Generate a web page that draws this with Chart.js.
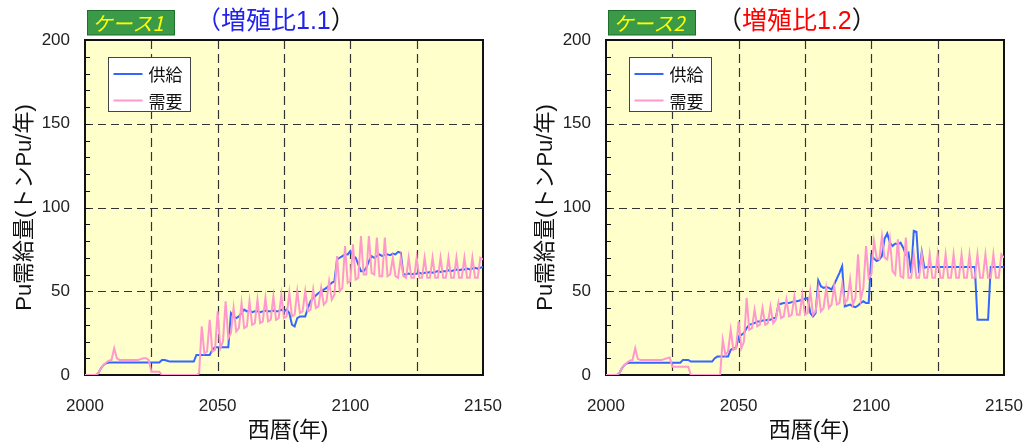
<!DOCTYPE html>
<html>
<head>
<meta charset="utf-8">
<script src="https://cdn.jsdelivr.net/npm/chart.js@4.4.0/dist/chart.umd.min.js"></script>
<style>
  html, body { margin: 0; padding: 0; background: #fff; overflow: hidden; width: 1026px; height: 443px; }
  .panel { position: absolute; top: 0; width: 513px; height: 443px; }
</style>
</head>
<body>
<div class="panel" style="left:0"><canvas id="case1" width="513" height="443"></canvas></div>
<div class="panel" style="left:521px"><canvas id="case2" width="513" height="443"></canvas></div>
<script>
// Years 2000..2150, one value per year
const years = Array.from({ length: 151 }, (_, i) => 2000 + i);
const xLabelled = [2000, 2050, 2100, 2150];
const yStep = 50;
const yMinorStep = 10;

// Case 1 (breeding ratio 1.1): Pu supply, t/yr
const supply1 = [
  0, 0, 0, 0, 0,
  1, 4, 6, 7, 7.5,
  7.5, 7.5, 7.5, 7.5, 7.5, 7.5, 7.5, 7.5, 7.5, 7.5,
  7.5, 7.5, 7.5, 7.5, 7.5, 7.5, 7.5, 7.5, 7.5,
  9, 9, 8.5,
  8, 8, 8, 8, 8, 8, 8, 8, 8, 8,
  12, 12, 12, 12, 12, 12,
  15, 16.5, 16.5, 16.5, 16.5, 16.5, 16.5,
  37, 35, 34, 35, 37, 39,
  38, 38.5, 37.5, 38, 38, 37.5, 38, 38.5, 38, 38, 38.5, 38, 38, 39, 38, 39,
  37, 30, 29, 34, 35, 35, 35,
  40, 44, 46, 47.5, 49, 50, 51, 52, 53.5, 55, 56,
  69, 70, 71, 72, 72,
  74, 71, 70, 66, 62, 62, 64, 68, 71, 70,
  71, 72, 71, 72, 72, 71.5, 72.5, 72, 73.5, 73,
  60,
  60, 60.5, 60, 60.5, 60.5, 61, 60.5, 61, 61, 61.5, 61, 61.5, 62, 61.5, 62,
  62, 62.5, 62, 62.5, 63, 62.5, 63, 63, 63.5, 63, 63.5, 64, 63.5, 64, 64.5
];

// Case 1: Pu demand, t/yr
const demand1 = [
  0, 0, 0, 0, 0,
  1, 4, 6, 7.5, 8.5, 9, 16, 10,
  9, 9, 9, 9, 9, 9, 9, 9,
  9.5, 10, 10, 9,
  2, 2, 2, 2,
  0, 0, 0, 0, 0, 0, 0, 0, 0, 0, 0, 0, 0, 0,
  1,
  29, 13, 14,  33, 14, 15,  38, 16, 20,  44, 22, 25,  40, 26, 28,
  43, 28, 29,  44, 30, 31,  45, 31, 32,  46, 32, 33,  47, 33, 34,
  48, 34, 35,  49, 35, 36,  50, 37, 38,  50, 38, 39,  51, 40, 41,
  52, 42, 44,  56, 45, 48,  71, 50, 52,  77, 55, 56,  78, 57, 58,
  83, 60, 60,  83, 61, 60,  82, 59, 59,  82, 59, 60,  70, 59, 58,
  70, 59, 58,  70, 58, 58,  70, 58, 58,  70, 58, 58,  70, 58, 58,
  70, 58, 58,  70, 58, 58,  70, 58, 58,  70, 58, 58,  70, 58, 58,
  70, 69
];

// Case 2 (breeding ratio 1.2): Pu supply, t/yr
const supply2 = [
  0, 0, 0, 0, 0,
  1, 4, 6, 7, 7.3,
  7.3, 7.3, 7.3, 7.3, 7.3, 7.3, 7.3, 7.3, 7.3, 7.3,
  7.3, 7.3, 7.3, 7.3, 7.3, 7.3, 7.3, 7.3, 7.3,
  9, 9, 9,
  8, 8, 8, 8, 8, 8, 8, 8, 8,
  10,
  11, 11, 11, 11, 11,
  15, 16, 16,
  23, 24, 25, 28, 30, 30.5, 31, 32, 32, 32.5, 32.5, 33, 33, 34, 34,
  42, 42.5, 43, 43, 43, 43.5, 44, 44, 44.5, 45, 45.5, 46,
  37, 35, 37, 56.5, 53, 52, 52.5, 52, 51, 54, 57.5, 61, 65,
  41, 41.5, 42, 41, 40.5, 41.5, 43, 44, 43, 43,
  71.5, 69.5, 68, 69, 71, 81.5, 84.5, 79, 77, 78.5,
  78, 79, 76, 72, 73, 61, 86, 85.5, 61, 73.5, 64,
  64.5, 64.5, 64.5, 64.5, 64.5, 64.5, 64.5, 64.5, 64.5, 64.5,
  64.5, 64.5, 64.5, 64.5, 64.5, 64.5, 64.5, 64.5, 64.5,
  33, 33, 33, 33, 33,
  64.5, 64.5, 64.5, 64.5, 64.5, 64.5
];

// Case 2: Pu demand, t/yr
const demand2 = [
  0, 0, 0, 0, 0,
  1, 4, 6, 7.5, 8.5, 9, 16, 9.5,
  9, 9, 9, 9, 9, 9, 9, 9, 9,
  9.5, 10, 10.5,
  5, 5, 5, 5, 5, 5, 5,
  0, 0, 0, 0, 0, 0, 0, 0, 0, 0, 0, 0,
  21, 12, 14,  27, 15, 16,  32, 16, 20,  46, 27, 28,  39, 29, 30,
  40, 30, 31,  41, 31, 33,  43, 34, 35,  45, 35, 36,  47, 36, 36,
  48, 36, 37,  50, 36, 38,  51, 38, 40,  52, 40, 42,  53, 42, 43,
  54, 43, 45,  57, 42, 46,  72, 45, 52,  77, 58, 60,  80, 70, 69,
  83, 70, 69,  81, 62, 60,  81, 59, 58,  82, 58, 58,  72, 58, 58,
  72, 58, 58,  72, 58, 58,  72, 58, 58,  72, 58, 58,  72, 58, 58,
  72, 58, 58,  72, 58, 58,  72, 58, 58,  72, 58, 58,  72, 58, 58,
  72, 70
];

const SUPPLY_COLOR = '#3366FF';
const DEMAND_COLOR = '#FF99CC';
const FONT = '"Liberation Sans", "Noto Sans CJK JP", sans-serif';
const JP = '"Noto Sans CJK JP", "Liberation Sans", sans-serif';

const decor = {
  id: 'decor',
  beforeDraw(chart) {
    const { ctx, chartArea: a } = chart;
    ctx.save();
    ctx.fillStyle = '#FFFFCC';
    ctx.fillRect(a.left, a.top, a.right - a.left, a.bottom - a.top);
    ctx.restore();
  },
  beforeDatasetsDraw(chart) {
    const { ctx, chartArea: a, scales: { x, y } } = chart;
    ctx.save();
    ctx.strokeStyle = '#333';
    ctx.lineWidth = 1.2;
    // vertical dashed grid at interior x ticks
    ctx.setLineDash([9, 5]);
    x.ticks.forEach(t => {
      if (t.value <= x.min || t.value >= x.max) return;
      const px = Math.round(x.getPixelForValue(t.value)) + 0.5;
      ctx.beginPath(); ctx.moveTo(px, a.top); ctx.lineTo(px, a.bottom); ctx.stroke();
    });
    // horizontal dashed grid at interior y ticks
    ctx.setLineDash([8, 5]);
    y.ticks.forEach(t => {
      if (t.value <= y.min || t.value >= y.max) return;
      const py = Math.round(y.getPixelForValue(t.value)) + 0.5;
      ctx.beginPath(); ctx.moveTo(a.left, py); ctx.lineTo(a.right, py); ctx.stroke();
    });
    // minor ticks on the value axis
    ctx.setLineDash([]);
    ctx.strokeStyle = '#111';
    ctx.lineWidth = 1;
    for (let v = y.min + yMinorStep; v < y.max; v += yMinorStep) {
      const py = Math.round(y.getPixelForValue(v)) + 0.5;
      ctx.beginPath(); ctx.moveTo(a.left, py); ctx.lineTo(a.left + 5, py); ctx.stroke();
    }
    // plot frame
    ctx.lineWidth = 2;
    ctx.strokeStyle = '#111';
    ctx.strokeRect(a.left, a.top, a.right - a.left, a.bottom - a.top);
    ctx.restore();
  },
  afterDraw(chart, args, o) {
    const { ctx, chartArea: a } = chart;
    ctx.save();
    // case badge
    const bx = a.left + 2.5, by = 10.5, bw = 87, bh = 24.5;
    ctx.fillStyle = '#3A9A48';
    ctx.fillRect(bx, by, bw, bh);
    ctx.strokeStyle = '#1F6E2C';
    ctx.lineWidth = 1;
    ctx.strokeRect(bx, by, bw, bh);
    ctx.fillStyle = '#FFFF00';
    ctx.font = 'italic 20px ' + JP;
    ctx.textBaseline = 'middle';
    ctx.textAlign = 'left';
    ctx.fillText(o.caseText, bx + 5, by + bh / 2 + 1);

    // breeding ratio heading
    ctx.font = '25px ' + FONT;
    let tx = a.left + 111;
    const ty = 22;
    ctx.fillStyle = o.openColor;
    ctx.fillText('（', tx, ty);
    tx += ctx.measureText('（').width;
    ctx.fillStyle = o.ratioColor;
    ctx.fillText(o.ratioText, tx, ty);
    tx += ctx.measureText(o.ratioText).width;
    ctx.fillStyle = '#111';
    ctx.fillText('）', tx, ty);

    // legend
    const lx = a.left + 23.5, ly = 57.5, lw = 82, lh = 54;
    ctx.fillStyle = '#fff';
    ctx.fillRect(lx, ly, lw, lh);
    ctx.strokeStyle = '#444';
    ctx.lineWidth = 1;
    ctx.strokeRect(lx, ly, lw, lh);
    chart.data.datasets.slice().sort((p, q) => p.legendIndex - q.legendIndex).forEach((ds, i) => {
      const yy = ly + 16.5 + i * 26.5;
      ctx.strokeStyle = ds.borderColor;
      ctx.lineWidth = 2;
      ctx.beginPath(); ctx.moveTo(lx + 5, yy); ctx.lineTo(lx + 34, yy); ctx.stroke();
      ctx.fillStyle = '#111';
      ctx.font = '17px ' + JP;
      ctx.fillText(ds.label, lx + 40, yy + 1);
    });

    // axis titles
    ctx.fillStyle = '#111';
    ctx.font = '22px ' + FONT;
    ctx.textAlign = 'center';
    ctx.fillText('西暦(年)', (a.left + a.right) / 2 + 4, 431);
    ctx.translate(25, (a.top + a.bottom) / 2);
    ctx.rotate(-Math.PI / 2);
    ctx.fillText('Pu需給量(トンPu/年)', 0, 0);
    ctx.restore();
  }
};

function makeChart(id, supply, demand, deco) {
  return new Chart(document.getElementById(id), {
    type: 'line',
    data: {
      datasets: [
        {
          label: '需要', legendIndex: 1, order: 0,
          data: demand.map((v, i) => ({ x: years[i], y: v })),
          borderColor: DEMAND_COLOR, borderWidth: 2, pointRadius: 0, tension: 0
        },
        {
          label: '供給', legendIndex: 0, order: 1,
          data: supply.map((v, i) => ({ x: years[i], y: v })),
          borderColor: SUPPLY_COLOR, borderWidth: 2, pointRadius: 0, tension: 0
        }
      ]
    },
    options: {
      responsive: false,
      animation: false,
      events: [],
      layout: { padding: { top: 40, right: 30, left: 0, bottom: 0 } },
      plugins: { legend: { display: false }, tooltip: { enabled: false }, decor: deco },
      scales: {
        x: {
          type: 'linear', min: 2000, max: 2150,
          grid: { display: false, drawTicks: false }, border: { display: false },
          ticks: {
            stepSize: 25, autoSkip: false, maxRotation: 0, padding: 21,
            color: '#222', font: { family: FONT, size: 17 },
            callback: v => xLabelled.includes(v) ? String(v) : ''
          },
          afterFit: s => { s.height = 68; s.paddingLeft = 0; s.paddingRight = 0; }
        },
        y: {
          min: 0, max: 200,
          grid: { display: false, drawTicks: false }, border: { display: false },
          ticks: {
            stepSize: yStep, padding: 15,
            color: '#222', font: { family: FONT, size: 17 }
          },
          afterFit: s => { s.width = 85; s.paddingTop = 0; s.paddingBottom = 0; }
        }
      }
    },
    plugins: [decor]
  });
}

makeChart('case1', supply1, demand1, {
  caseText: 'ケース1', ratioText: '増殖比1.1', ratioColor: '#2222EE', openColor: '#2222EE'
});
makeChart('case2', supply2, demand2, {
  caseText: 'ケース2', ratioText: '増殖比1.2', ratioColor: '#FF0000', openColor: '#111'
});
</script>
</body>
</html>
